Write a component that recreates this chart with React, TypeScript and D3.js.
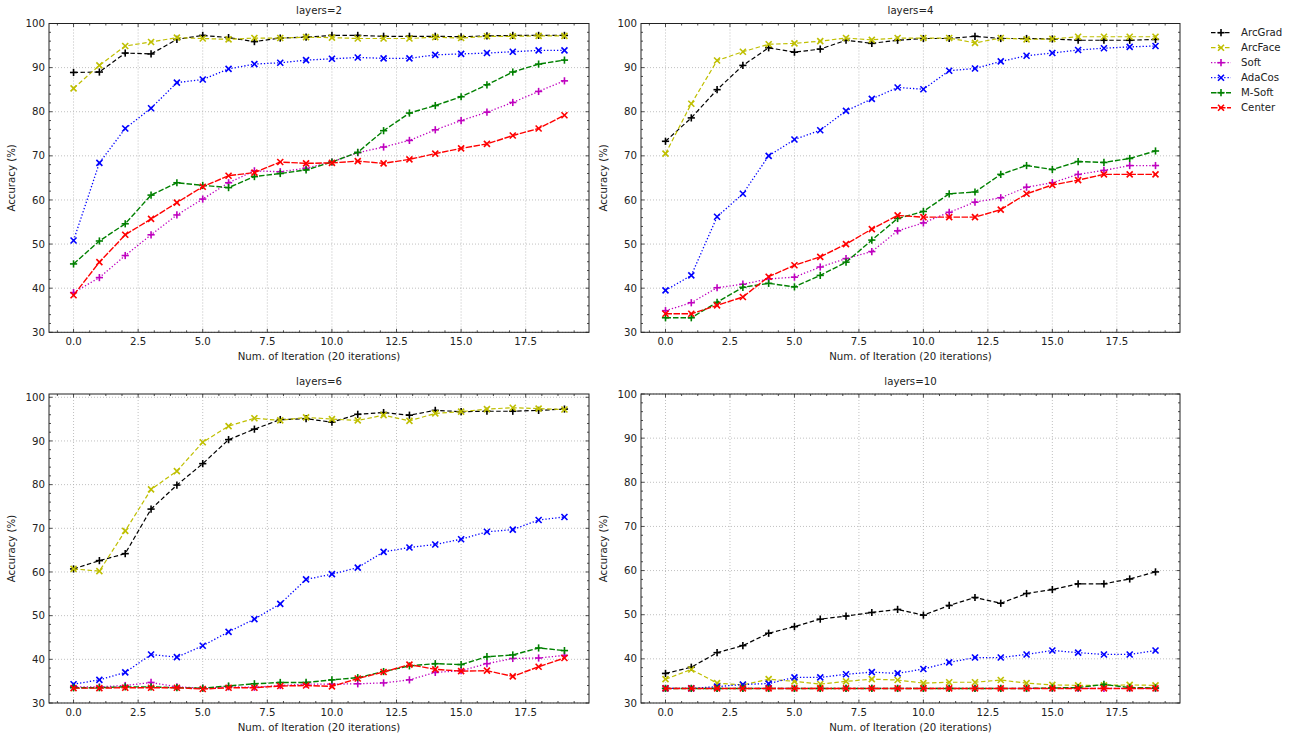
import { useEffect, useRef } from 'react';
import * as d3 from 'd3';

// legend / series names, in plot order
const methods = ['ArcGrad', 'ArcFace', 'Soft', 'AdaCos', 'M-Soft', 'Center'];

// layers=2
const l2ArcGrad = [88.9, 89.0, 93.3, 93.1, 96.4, 97.3, 96.8, 95.9, 96.7, 96.9, 97.3, 97.3, 97.1, 97.1, 97.1, 97.0, 97.2, 97.3, 97.3, 97.3];
const l2ArcFace = [85.3, 90.5, 94.9, 95.8, 96.8, 96.6, 96.4, 96.7, 96.7, 96.9, 96.8, 96.6, 96.6, 96.6, 96.9, 96.7, 97.1, 97.1, 97.2, 97.2];
const l2Soft = [39.0, 42.4, 47.4, 52.1, 56.6, 60.2, 63.9, 66.6, 66.4, 67.2, 68.6, 70.7, 72.0, 73.5, 75.9, 78.0, 79.9, 82.1, 84.6, 87.0];
const l2AdaCos = [50.8, 68.4, 76.2, 80.8, 86.6, 87.3, 89.7, 90.8, 91.1, 91.7, 92.0, 92.3, 92.1, 92.1, 92.9, 93.1, 93.3, 93.6, 93.9, 93.9];
const l2MSoft = [45.5, 50.7, 54.6, 61.1, 63.9, 63.3, 62.8, 65.3, 66.0, 66.8, 68.6, 70.8, 75.7, 79.7, 81.4, 83.4, 86.1, 89.0, 90.8, 91.7];
const l2Center = [38.4, 45.9, 52.1, 55.7, 59.4, 63.0, 65.5, 66.2, 68.6, 68.3, 68.4, 68.8, 68.3, 69.2, 70.5, 71.7, 72.7, 74.6, 76.2, 79.2];

// layers=4
const l4ArcGrad = [73.3, 78.6, 85.0, 90.5, 94.5, 93.5, 94.2, 96.2, 95.5, 96.2, 96.6, 96.6, 97.1, 96.6, 96.6, 96.5, 96.2, 96.2, 96.2, 96.4];
const l4ArcFace = [70.5, 81.8, 91.6, 93.6, 95.3, 95.5, 96.0, 96.7, 96.3, 96.7, 96.7, 96.7, 95.6, 96.7, 96.4, 96.5, 97.0, 97.0, 97.0, 97.0];
const l4Soft = [34.9, 36.7, 40.1, 40.9, 42.1, 42.5, 44.8, 46.7, 48.3, 53.0, 54.8, 57.2, 59.5, 60.5, 62.9, 63.9, 65.8, 66.7, 67.8, 67.8];
const l4AdaCos = [39.5, 42.9, 56.2, 61.4, 70.0, 73.7, 75.8, 80.2, 82.9, 85.5, 85.1, 89.3, 89.8, 91.4, 92.7, 93.3, 94.0, 94.4, 94.7, 94.9];
const l4MSoft = [33.3, 33.3, 36.8, 40.2, 41.1, 40.3, 42.9, 45.9, 50.9, 55.8, 57.4, 61.4, 61.8, 65.8, 67.8, 66.9, 68.7, 68.5, 69.4, 71.1];
const l4Center = [34.2, 34.2, 36.1, 38.0, 42.6, 45.2, 47.1, 50.0, 53.4, 56.5, 56.1, 56.1, 56.1, 57.8, 61.4, 63.4, 64.5, 65.8, 65.8, 65.8];

// layers=6
const l6ArcGrad = [60.7, 62.6, 64.2, 74.4, 79.9, 84.8, 90.3, 92.7, 94.9, 95.1, 94.3, 96.1, 96.5, 95.9, 97.0, 96.7, 96.8, 96.8, 97.0, 97.3];
const l6ArcFace = [60.7, 60.2, 69.4, 78.9, 83.1, 89.7, 93.4, 95.2, 94.7, 95.4, 95.0, 94.7, 95.9, 94.6, 96.3, 96.7, 97.3, 97.6, 97.4, 97.2];
const l6Soft = [33.7, 33.7, 34.0, 34.7, 33.7, 33.4, 33.7, 33.6, 34.0, 34.3, 34.3, 34.4, 34.6, 35.3, 37.0, 37.4, 39.0, 40.2, 40.3, 40.9];
const l6AdaCos = [34.3, 35.3, 37.0, 41.1, 40.5, 43.1, 46.3, 49.2, 52.7, 58.3, 59.5, 61.0, 64.6, 65.6, 66.3, 67.5, 69.2, 69.7, 71.9, 72.6];
const l6MSoft = [33.5, 33.5, 33.7, 33.7, 33.5, 33.4, 33.9, 34.4, 34.7, 34.7, 35.3, 35.8, 37.2, 38.5, 39.0, 38.8, 40.6, 41.0, 42.6, 42.0];
const l6Center = [33.4, 33.4, 33.5, 33.5, 33.5, 33.2, 33.5, 33.5, 33.9, 34.0, 33.8, 35.6, 37.1, 38.8, 37.7, 37.3, 37.4, 36.1, 38.3, 40.3];

// layers=10
const l10ArcGrad = [36.7, 38.1, 41.4, 43.0, 45.8, 47.3, 49.0, 49.7, 50.5, 51.2, 49.9, 52.1, 53.9, 52.6, 54.8, 55.7, 57.0, 57.0, 58.1, 59.7];
const l10ArcFace = [35.4, 37.6, 34.5, 34.1, 35.4, 34.9, 34.3, 34.9, 35.4, 35.2, 34.5, 34.7, 34.7, 35.2, 34.5, 34.1, 34.0, 34.0, 34.1, 34.0];
const l10Soft = [33.3, 33.3, 33.3, 33.3, 33.3, 33.3, 33.3, 33.3, 33.3, 33.3, 33.3, 33.3, 33.3, 33.3, 33.3, 33.3, 33.3, 33.3, 33.3, 33.3];
const l10AdaCos = [33.3, 33.3, 33.7, 34.2, 34.4, 35.8, 35.8, 36.5, 37.0, 36.7, 37.7, 39.2, 40.3, 40.3, 41.0, 41.9, 41.4, 41.0, 41.0, 41.9];
const l10MSoft = [33.3, 33.3, 33.3, 33.3, 33.3, 33.3, 33.3, 33.3, 33.3, 33.3, 33.3, 33.3, 33.3, 33.3, 33.3, 33.4, 33.5, 34.2, 33.5, 33.4];
const l10Center = [33.3, 33.3, 33.3, 33.3, 33.3, 33.3, 33.3, 33.3, 33.3, 33.3, 33.3, 33.3, 33.3, 33.3, 33.3, 33.3, 33.3, 33.3, 33.3, 33.3];

const xTicks = [0, 2.5, 5, 7.5, 10, 12.5, 15, 17.5];
const yTicks = [30, 40, 50, 60, 70, 80, 90, 100];

const styles: Record<string, { color: string; dash: string; width: number; marker: string }> = {
  ArcGrad: { color: '#000000', dash: '4.5,2.5', width: 1.2, marker: '+' },
  ArcFace: { color: '#bfbf00', dash: '4.5,2.5', width: 1.2, marker: 'x' },
  Soft: { color: '#bf00bf', dash: '1.3,2', width: 1.3, marker: '+' },
  AdaCos: { color: '#0000ff', dash: '1.3,2', width: 1.3, marker: 'x' },
  'M-Soft': { color: '#008000', dash: '5.5,2', width: 1.4, marker: '+' },
  Center: { color: '#ff0000', dash: '6.5,1.5', width: 1.4, marker: 'x' },
};

const panels = [
  { title: 'layers=2', left: 49, right: 589, top: 23.5, bottom: 332.3, yMax: 100,
    series: [l2ArcGrad, l2ArcFace, l2Soft, l2AdaCos, l2MSoft, l2Center] },
  { title: 'layers=4', left: 641, right: 1180, top: 23.5, bottom: 332.3, yMax: 100,
    series: [l4ArcGrad, l4ArcFace, l4Soft, l4AdaCos, l4MSoft, l4Center] },
  { title: 'layers=6', left: 49, right: 589, top: 394, bottom: 703, yMax: 100.75,
    series: [l6ArcGrad, l6ArcFace, l6Soft, l6AdaCos, l6MSoft, l6Center] },
  { title: 'layers=10', left: 641, right: 1180, top: 394, bottom: 703, yMax: 100,
    series: [l10ArcGrad, l10ArcFace, l10Soft, l10AdaCos, l10MSoft, l10Center] },
];

const FONT = 'DejaVu Sans, sans-serif';

function drawMarker(g: any, kind: string, x: number, y: number, color: string) {
  const s = kind === '+' ? 3.6 : 3;
  const segs = kind === '+'
    ? [[x - s, y, x + s, y], [x, y - s, x, y + s]]
    : [[x - s, y - s, x + s, y + s], [x - s, y + s, x + s, y - s]];
  segs.forEach(([x1, y1, x2, y2]) => {
    g.append('line').attr('x1', x1).attr('y1', y1).attr('x2', x2).attr('y2', y2)
      .attr('stroke', color).attr('stroke-width', 1.6);
  });
}

const App = () => {
  const svgRef = useRef<SVGSVGElement>(null);

  useEffect(() => {
    const svg = d3.select(svgRef.current);
    svg.selectAll('*').remove();

    panels.forEach((p) => {
      const x = d3.scaleLinear().domain([-0.95, 19.95]).range([p.left, p.right]);
      const y = d3.scaleLinear().domain([30, p.yMax]).range([p.bottom, p.top]);
      const g = svg.append('g');

      // grid
      xTicks.forEach((t) => {
        g.append('line').attr('x1', x(t)).attr('x2', x(t)).attr('y1', p.top).attr('y2', p.bottom)
          .attr('stroke', '#b0b0b0').attr('stroke-width', 0.8).attr('stroke-dasharray', '1,2');
      });
      yTicks.forEach((t) => {
        g.append('line').attr('x1', p.left).attr('x2', p.right).attr('y1', y(t)).attr('y2', y(t))
          .attr('stroke', '#b0b0b0').attr('stroke-width', 0.8).attr('stroke-dasharray', '1,2');
      });

      // series
      p.series.forEach((vals, k) => {
        const st = styles[methods[k]];
        const lineGen = d3.line<number>().x((_, i) => x(i)).y((v) => y(v));
        g.append('path').attr('d', lineGen(vals)).attr('fill', 'none')
          .attr('stroke', st.color).attr('stroke-width', st.width)
          .attr('stroke-dasharray', st.dash);
        vals.forEach((v, i) => drawMarker(g, st.marker, x(i), y(v), st.color));
      });

      // frame
      g.append('rect').attr('x', p.left).attr('y', p.top)
        .attr('width', p.right - p.left).attr('height', p.bottom - p.top)
        .attr('fill', 'none').attr('stroke', '#222').attr('stroke-width', 1);

      // ticks (inward, all four sides)
      const xMinor = d3.range(-0.625, 20, 0.625).filter((t) => t >= -0.95 && t <= 19.95);
      const yMinor = d3.range(30, p.yMax + 0.01, 2);
      const tick = (x1: number, y1: number, x2: number, y2: number) =>
        g.append('line').attr('x1', x1).attr('y1', y1).attr('x2', x2).attr('y2', y2)
          .attr('stroke', '#222').attr('stroke-width', 0.8);
      xMinor.forEach((t) => {
        const len = xTicks.includes(t) ? 3.5 : 2;
        tick(x(t), p.bottom, x(t), p.bottom - len);
        tick(x(t), p.top, x(t), p.top + len);
      });
      yMinor.forEach((t) => {
        const len = yTicks.includes(t) ? 3.5 : 2;
        tick(p.left, y(t), p.left + len, y(t));
        tick(p.right, y(t), p.right - len, y(t));
      });

      // tick labels
      xTicks.forEach((t) => {
        g.append('text').attr('x', x(t)).attr('y', p.bottom + 13).attr('text-anchor', 'middle')
          .attr('font-family', FONT).attr('font-size', 10.2).attr('fill', '#222')
          .text(d3.format('.1f')(t));
      });
      yTicks.forEach((t) => {
        g.append('text').attr('x', p.left - 4).attr('y', y(t)).attr('dy', '0.35em')
          .attr('text-anchor', 'end').attr('font-family', FONT).attr('font-size', 10.2)
          .attr('fill', '#222').text(t);
      });

      // titles & axis labels
      const cx = (p.left + p.right) / 2;
      g.append('text').attr('x', cx).attr('y', p.top - 9.5).attr('text-anchor', 'middle')
        .attr('font-family', FONT).attr('font-size', 10.2).attr('fill', '#222').text(p.title);
      g.append('text').attr('x', cx).attr('y', p.bottom + 28).attr('text-anchor', 'middle')
        .attr('font-family', FONT).attr('font-size', 10.2).attr('fill', '#222')
        .text('Num. of Iteration (20 iterations)');
      const cy = (p.top + p.bottom) / 2;
      g.append('text').attr('transform', `translate(${p.left - 34},${cy}) rotate(-90)`)
        .attr('text-anchor', 'middle').attr('font-family', FONT).attr('font-size', 10.2)
        .attr('fill', '#222').text('Accuracy (%)');
    });

    // legend
    const lg = svg.append('g');
    methods.forEach((m, k) => {
      const st = styles[m];
      const ly = 32.7 + k * 15;
      lg.append('line').attr('x1', 1211).attr('x2', 1231).attr('y1', ly).attr('y2', ly)
        .attr('stroke', st.color).attr('stroke-width', st.width).attr('stroke-dasharray', st.dash);
      drawMarker(lg, st.marker, 1221, ly, st.color);
      lg.append('text').attr('x', 1241).attr('y', ly).attr('dy', '0.35em')
        .attr('font-family', FONT).attr('font-size', 10.2).attr('fill', '#222').text(m);
    });
  }, []);

  return (
    <svg ref={svgRef} width={1293} height={735}
      style={{ position: 'absolute', left: 0, top: 0, background: '#fff' }} />
  );
};

export default App;
